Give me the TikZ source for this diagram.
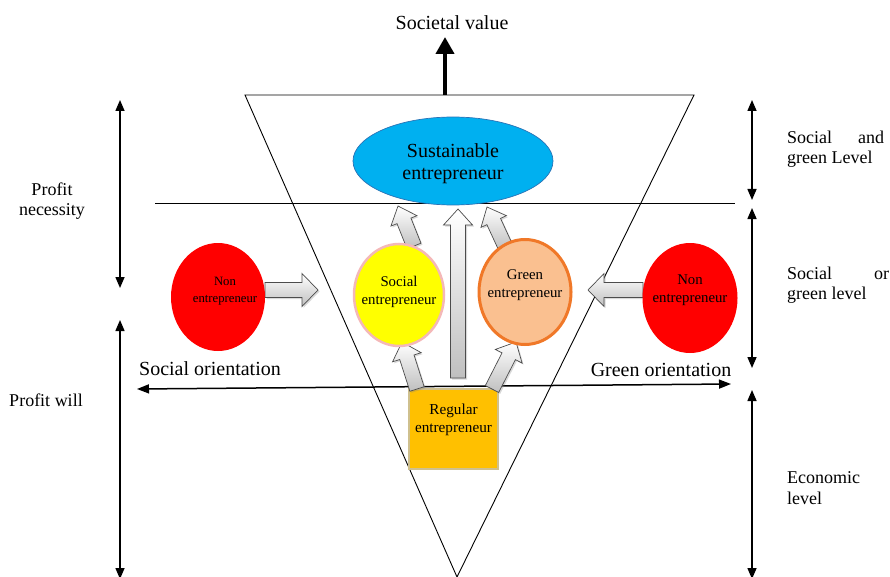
\documentclass[tikz,border=0pt]{standalone}
\usepackage{fontspec}
\setmainfont{Liberation Serif}
\newfontfamily\tnr{Liberation Serif}
\usetikzlibrary{calc,shapes.geometric,arrows.meta,shadows}
\definecolor{sustfill}{HTML}{00B0F0}
\definecolor{sustline}{HTML}{2A72B5}
\definecolor{nonred}{HTML}{FF0000}
\definecolor{socfill}{HTML}{FFFF00}
\definecolor{socline}{HTML}{F4B8B8}
\definecolor{grfill}{HTML}{FAC090}
\definecolor{grline}{HTML}{F07828}
\definecolor{regfill}{HTML}{FFC000}
\definecolor{regline}{HTML}{CFC08E}
\newcommand\blockarrow[4][]{%
  \coordinate (ba-s) at (#2);
  \coordinate (ba-e) at (#3);
  \coordinate (ba-h) at ($(ba-e)!16pt!(ba-s)$);
  \draw[barrow,#1] ($(ba-s)!7.5pt!90:(ba-e)$) -- ($(ba-h)!7.5pt!90:(ba-e)$)
    -- ($(ba-h)!#4!90:(ba-e)$) -- (ba-e) -- ($(ba-h)!#4!-90:(ba-e)$)
    -- ($(ba-h)!7.5pt!-90:(ba-e)$) -- ($(ba-s)!7.5pt!-90:(ba-e)$) -- cycle;}
\tikzset{
  lab/.style={inner sep=0pt, font=\tnr\fontsize{18}{20.5}\selectfont},
  big/.style={inner sep=0pt, font=\tnr\fontsize{20}{22}\selectfont},
  small/.style={inner sep=0pt, align=center, font=\tnr\fontsize{14.8}{17.5}\selectfont},
  ell/.style={ellipse, inner sep=0pt},
  barrow/.style={draw=black!70, line width=0.7pt, top color=white, bottom color=gray!50,
    drop shadow={opacity=0.3, shadow xshift=1.5pt, shadow yshift=-1.5pt}},
  dbl/.style={line width=1.5pt, {Triangle[width=9pt,length=11pt]}-{Triangle[width=9pt,length=11pt]}},
  thin/.style={line width=0.9pt}
}
\begin{document}
\begin{tikzpicture}[x=1pt,y=-1pt]
\useasboundingbox (0,0) rectangle (890,577);
% triangle and divider
\coordinate (tl) at (245,95);
\coordinate (tr) at (694,95);
\coordinate (apex) at (457,577);
\draw[thin] (tl) -- (tr) -- (apex) -- cycle;
\coordinate (dl) at (155,203);
\coordinate (dr) at (735,203);
\draw[line width=0.8pt] (dl) -- (dr);
% orientation axis
\coordinate (ol) at (137,389);
\coordinate (or) at (731,384);
\draw[line width=1.5pt, {Triangle[width=9pt,length=12pt]}-{Triangle[width=9pt,length=12pt]}] (ol) -- (or);
% societal value
\node[big, anchor=base] (sv) at (452,30) {Societal value};
\coordinate (svs) at (445,95);
\coordinate (sve) at (445,37);
\draw[line width=4pt, -{Triangle[width=18pt,length=17pt]}] (svs) -- (sve);
% side level arrows
\coordinate (l1a) at (120,100); \coordinate (l1b) at (120,288);
\coordinate (l2a) at (120,320); \coordinate (l2b) at (120,579);
\draw[dbl] (l1a) -- (l1b);
\draw[dbl] (l2a) -- (l2b);
\coordinate (r1a) at (752,100); \coordinate (r1b) at (752,200);
\coordinate (r2a) at (752,208); \coordinate (r2b) at (752,368);
\coordinate (r3a) at (752,390); \coordinate (r3b) at (752,579);
\draw[dbl] (r1a) -- (r1b);
\draw[dbl] (r2a) -- (r2b);
\draw[dbl] (r3a) -- (r3b);
% side labels
\node[lab, align=center, anchor=north] (pn) at (52,182.5) {Profit\\necessity};
\node[lab, anchor=base] (pw) at (46,406) {Profit will};
\node[lab, align=left, anchor=north west] (sg) at (787,130.5) {\makebox[97pt][s]{Social and}\\green Level};
\node[lab, align=left, anchor=north west] (so) at (787,266.5) {\makebox[102pt][s]{Social or}\\green level};
\node[lab, align=left, anchor=north west] (el) at (787,471.5) {Economic\\level};
\node[big, anchor=base] (sor) at (210,375) {Social orientation};
\node[big, anchor=base] (gor) at (661,376) {Green orientation};
% regular entrepreneur
\node[draw=regline, fill=regfill, line width=2.5pt, minimum width=89pt, minimum height=80pt, inner sep=0pt,
  drop shadow={opacity=0.25, shadow xshift=1pt, shadow yshift=-1pt}] (reg) at (453.5,429) {};
\node[small, font=\tnr\fontsize{15.2}{18}\selectfont] (regt) at (453.5,420) {Regular\\entrepreneur};
% block arrows (behind ellipses)
\coordinate (a1s) at (265,290); \coordinate (a1e) at (318,290);
\coordinate (a2s) at (643,290); \coordinate (a2e) at (588,290);
\coordinate (a3s) at (417,389); \coordinate (a3e) at (402,342);
\coordinate (a4s) at (492,389); \coordinate (a4e) at (516,342);
\coordinate (a5s) at (458,378); \coordinate (a5e) at (458,209);
\coordinate (a6s) at (414,246); \coordinate (a6e) at (398,206);
\coordinate (a7s) at (505,246); \coordinate (a7e) at (487,207);
\blockarrow{a1s}{a1e}{16.5pt}
\blockarrow{a2s}{a2e}{16.5pt}
\blockarrow{a3s}{a3e}{15pt}
\blockarrow{a4s}{a4e}{15pt}
\blockarrow{a5s}{a5e}{14.5pt}
\blockarrow{a6s}{a6e}{14pt}
\blockarrow{a7s}{a7e}{14pt}
% ellipses
\node[ell, draw=sustline, line width=0.7pt, fill=sustfill, minimum width=200pt, minimum height=88pt] (sust) at (453,161) {};
\node[big, align=center] (sustt) at (453,164) {Sustainable\\entrepreneur};
\node[ell, fill=nonred, minimum width=94pt, minimum height=108pt] (lnon) at (218,297) {};
\node[small, font=\tnr\fontsize{12.7}{17}\selectfont] (lnont) at (225,291) {Non\\entrepreneur};
\node[ell, draw=socline, line width=2.5pt, fill=socfill, minimum width=90pt, minimum height=102pt] (soc) at (399,295) {};
\node[small] (soct) at (399,292) {Social\\entrepreneur};
\node[ell, draw=grline, line width=3pt, fill=grfill, minimum width=92pt, minimum height=105pt] (gr) at (525,292) {};
\node[small] (grt) at (525,285) {Green\\entrepreneur};
\node[ell, fill=nonred, minimum width=95pt, minimum height=110pt] (rnon) at (690,298) {};
\node[small] (rnont) at (690,290) {Non\\entrepreneur};
\end{tikzpicture}
\end{document}
